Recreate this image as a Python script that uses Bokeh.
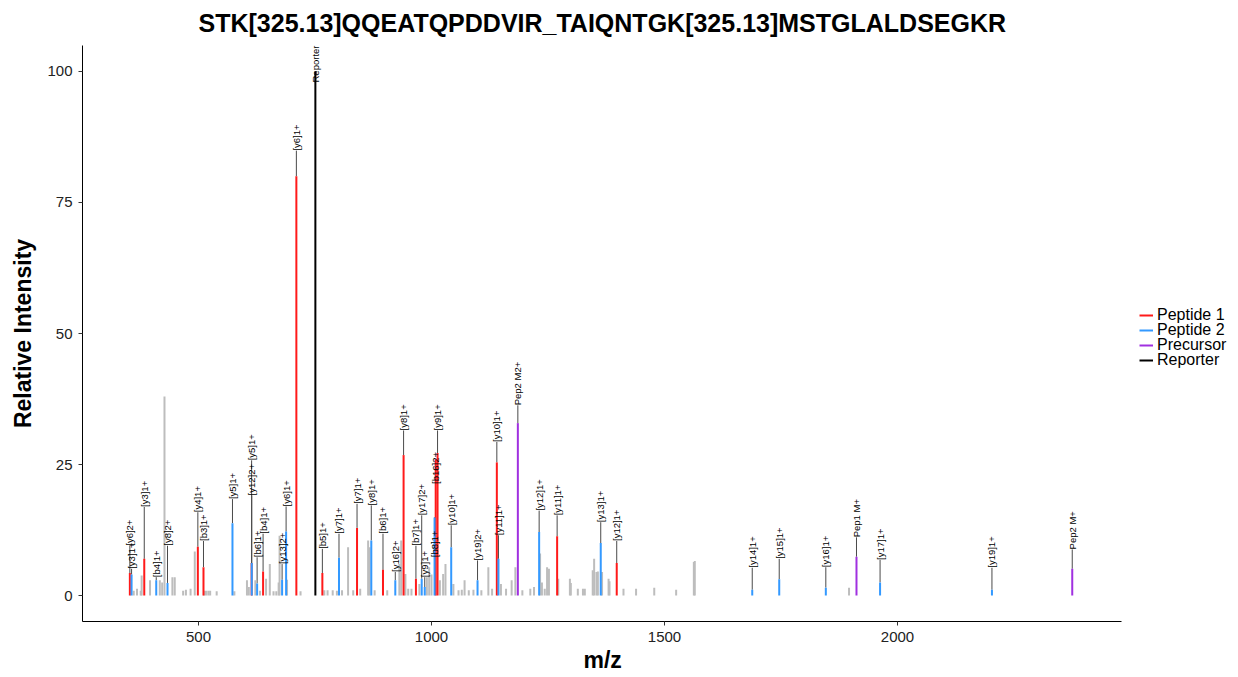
import math

from bokeh.core.properties import value
from bokeh.embed import file_html
from bokeh.models import (ColumnDataSource, FixedTicker, Legend, LegendItem, Range1d,
                          Title)
from bokeh.plotting import figure
from bokeh.resources import INLINE

TITLE = "STK[325.13]QQEATQPDDVIR_TAIQNTGK[325.13]MSTGLALDSEGKR"

# ---- unassigned peaks ----
other_mz = [361, 368, 376, 378, 396, 417, 422, 427, 444, 449, 467, 473, 483, 492,
            512, 516, 521, 525, 539, 577, 604, 608, 622, 632, 645, 653, 661, 667,
            672, 674, 690, 719, 770, 777, 788, 797, 808, 821, 832, 847, 864, 867,
            878, 905, 931, 935, 944, 950, 957, 974, 990, 995, 1000, 1018, 1025,
            1030, 1047, 1058, 1065, 1071, 1080, 1090, 1107, 1122, 1130, 1149, 1160,
            1172, 1180, 1195, 1212, 1220, 1233, 1237, 1243, 1248, 1252, 1272, 1297,
            1299, 1314, 1325, 1329, 1346, 1349, 1354, 1357, 1366, 1380, 1382, 1412,
            1439, 1478, 1525, 1563, 1565, 1896]
other_int = [0.9, 1.3, 0.9, 3.8, 2.9, 2.9, 2.5, 38.0, 3.5, 3.5, 0.9, 1.1, 1.3, 8.4,
             0.9, 0.9, 0.9, 0.9, 0.8, 0.8, 2.9, 1.6, 2.9, 0.9, 3.2, 6.0, 0.8, 0.8,
             2.5, 11.4, 3.0, 0.8, 1.0, 1.0, 1.0, 0.9, 1.0, 9.2, 1.0, 1.3, 10.5, 9.2,
             1.0, 1.0, 6.0, 10.5, 4.1, 1.3, 1.3, 2.2, 3.5, 5.4, 4.0, 2.9, 4.1,
             6.0, 2.2, 1.0, 1.1, 2.9, 1.0, 1.1, 1.0, 5.4, 1.3, 2.2, 1.3,
             2.9, 5.4, 1.0, 1.3, 1.6, 8.0, 2.5, 1.3, 5.4, 5.1, 3.2, 3.2,
             2.4, 1.3, 1.3, 1.3, 4.8, 7.0, 4.5, 4.6, 4.5, 3.2, 2.7, 1.3,
             1.3, 1.5, 1.1, 6.4, 6.6, 1.5]

# ---- Peptide 1 fragments ----
pep1_label = ["[y6]2+", "[y3]1+", "[y4]1+", "[b3]1+", "[y5]1+", "[b4]1+", "[y6]1+",
              "[b5]1+", "[y7]1+", "[b6]1+", "[y8]1+", "[b7]1+", "[b16]2+", "[y9]1+",
              "[y10]1+", "[y11]1+", "[y12]1+"]
pep1_mz = [352.7, 383.6, 498.6, 510.7, 614.0, 638.6, 710.0, 765.8, 840.2, 895.9,
           940.1, 966.6, 1009.0, 1013.0, 1140.2, 1269.6, 1397.5]
pep1_int = [4.3, 7.0, 9.3, 5.4, 6.2, 4.6, 80.0, 4.3, 12.9, 4.9, 26.8, 3.2, 26.0,
            27.2, 25.4, 11.3, 6.2]
pep1_label_y = [9.5, 16.9, 15.9, 10.4, 25.8, 11.8, 84.9, 8.9, 17.5, 11.8, 31.5, 9.5,
                21.3, 31.5, 29.3, 15.3, 10.4]

# ---- Peptide 2 fragments ----
pep2_label = ["[y3]1+", "[b4]1+", "[y8]2+", "[y5]1+", "[y12]2+", "[b6]1+", "[y13]2+",
              "[y6]1+", "[y7]1+", "[y8]1+", "[y16]2+", "[y17]2+", "[y9]1+", "[b8]1+",
              "[y10]1+", "[y19]2+", "[y11]1+", "[y12]1+", "[y13]1+", "[y14]1+",
              "[y15]1+", "[y16]1+", "[y17]1+", "[y19]1+"]
pep2_mz = [356.4, 409.3, 433.5, 572.9, 614.3, 625.8, 679.4, 688.0, 801.5, 870.8,
           922.3, 979.0, 985.5, 1006.6, 1042.3, 1098.8, 1143.7, 1231.0, 1363.2,
           1688.3, 1746.2, 1846.2, 1962.6, 2202.7]
pep2_int = [4.0, 2.9, 2.4, 13.8, 6.2, 2.3, 3.0, 12.2, 7.2, 10.5, 2.9, 3.2, 1.6,
            14.9, 9.2, 2.9, 7.0, 12.1, 10.0, 1.1, 3.1, 1.5, 2.5, 1.1]
pep2_label_y = [5.1, 3.5, 9.5, 18.4, 19.1, 7.3, 6.0, 17.0, 11.8, 17.2, 4.5, 15.3,
                3.5, 7.3, 13.4, 6.7, 11.5, 16.2, 14.0, 5.3, 7.0, 5.4, 6.8, 5.3]

# ---- Precursor ions ----
prec_label = ["Pep2 M2+", "Pep1 M+", "Pep2 M+"]
prec_mz = [1185.3, 1912.0, 2375.0]
prec_int = [32.9, 7.4, 5.1]
prec_label_y = [36.3, 11.1, 8.8]

# ---- Reporter ion ----
rep_label = ["Reporter"]
rep_mz = [750.8]
rep_int = [100.0]
rep_label_y = [97.9]

FONT = "Liberation Sans"

# m/z extent covered by the axis; the plotting area continues past it on the
# right so the legend can sit beside the spectrum
MZ_MIN, MZ_MAX = 251.07, 2480.7
PX_PER_MZ = 1039 / (MZ_MAX - MZ_MIN)
FRAME_W = 1156

p = figure(width=1238, height=677, frame_width=FRAME_W, frame_height=576,
           output_backend="svg", toolbar_location=None,
           x_range=Range1d(MZ_MIN, MZ_MIN + FRAME_W / PX_PER_MZ),
           y_range=Range1d(-4.96, 104.96),
           min_border_left=82, min_border_right=0, min_border_top=45,
           min_border_bottom=56)

p.title.text = TITLE
p.title.align = "left"
p.title.offset = 116
p.title.vertical_align = "top"
p.title.text_font = FONT
p.title.text_font_size = "25px"
p.title.text_font_style = "bold"
p.title.text_color = "black"
p.title.standoff = 14

p.xgrid.visible = False
p.ygrid.visible = False
p.outline_line_color = None
p.background_fill_color = "white"
p.border_fill_color = "white"

for ax in (p.xaxis[0], p.yaxis[0]):
    ax.axis_line_color = "black"
    ax.axis_line_width = 1
    ax.major_tick_line_color = "#333333"
    ax.major_tick_out = 4
    ax.major_tick_in = 0
    ax.minor_tick_line_color = None
    ax.major_label_text_font = FONT
    ax.major_label_text_font_size = "15px"
    ax.major_label_text_color = "#222222"
    ax.axis_label_text_font = FONT
    ax.axis_label_text_font_size = "23px"
    ax.axis_label_text_font_style = "bold"
    ax.axis_label_text_color = "black"

p.yaxis.axis_label = "Relative Intensity"
p.xaxis.bounds = (MZ_MIN, MZ_MAX)
p.xaxis.ticker = FixedTicker(ticks=[500, 1000, 1500, 2000])
p.yaxis.ticker = FixedTicker(ticks=[0, 25, 50, 75, 100])
p.xaxis.major_label_standoff = 6
p.yaxis.major_label_standoff = 6
p.yaxis.axis_label_standoff = 8

# x-axis title, centred under the m/z axis rather than the whole plotting area
p.add_layout(Title(text="m/z", align="left", offset=501, standoff=0,
                   text_font=FONT, text_font_size="23px", text_font_style="bold",
                   text_color="black"), "below")

series = [
    ("Peptide 1", "#ff1a1a", pep1_label, pep1_mz, pep1_int, pep1_label_y),
    ("Peptide 2", "#3399ff", pep2_label, pep2_mz, pep2_int, pep2_label_y),
    ("Precursor", "#a030e0", prec_label, prec_mz, prec_int, prec_label_y),
    ("Reporter", "black", rep_label, rep_mz, rep_int, rep_label_y),
]

sources = []
for name, color, labels, mz, inten, ly in series:
    src = ColumnDataSource(dict(mz=mz, inten=inten, label=labels, label_y=ly,
                                zero=[0] * len(mz)))
    sources.append(src)
    # leader line from the peak top to its label
    p.segment(x0="mz", y0="inten", x1="mz", y1="label_y", source=src,
              line_color="#4a4a4a", line_width=1)

# unassigned spectrum in grey
other_src = ColumnDataSource(dict(mz=other_mz, inten=other_int,
                                  zero=[0] * len(other_mz)))
p.segment(x0="mz", y0="zero", x1="mz", y1="inten", source=other_src,
          line_color="#bdbdbd", line_width=2)

items = []
for (name, color, *_), src in zip(series, sources):
    r = p.segment(x0="mz", y0="zero", x1="mz", y1="inten", source=src,
                  line_color=color, line_width=2)
    items.append(LegendItem(label=name, renderers=[r]))

for src in sources:
    p.text(x="mz", y="label_y", text="label", source=src, angle=math.pi / 2,
           text_align="left", text_baseline="middle", text_font=value(FONT),
           text_font_size="9.5px", text_color="black")

# legend beside the m/z axis end: one entry per box so the rows can sit
# closer together than the text height allows in a single legend
ROW_STEP = 15
for i, item in enumerate(items):
    leg = Legend(items=[item], location=(1057, 297 - i * ROW_STEP),
                 orientation="vertical")
    leg.label_text_font = FONT
    leg.label_text_font_size = "16px"
    leg.label_text_color = "black"
    leg.label_height = 12
    leg.glyph_height = 12
    leg.glyph_width = 14
    leg.padding = 0
    leg.margin = 0
    leg.label_standoff = 4
    leg.border_line_color = None
    leg.background_fill_alpha = 0
    p.add_layout(leg)

open("out.html", "w").write(file_html(p, INLINE))
